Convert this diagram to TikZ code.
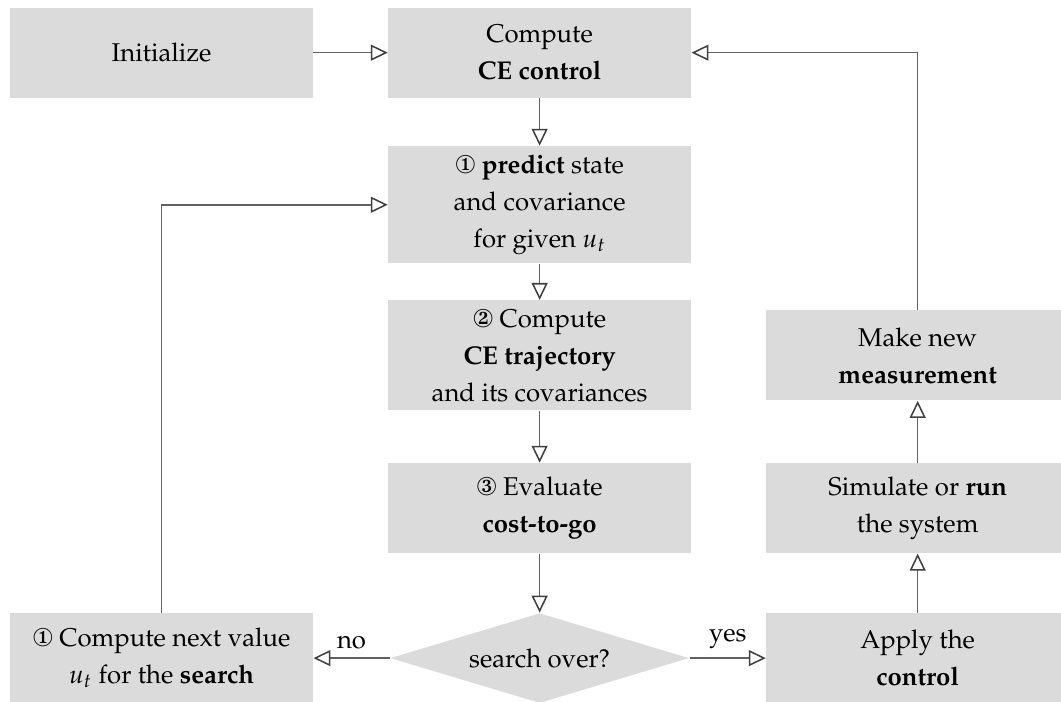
\documentclass[tikz,border=0pt]{standalone}
\usepackage[T1]{fontenc}
\usepackage{mathpazo}
\usepackage{pifont}
\usetikzlibrary{arrows.meta,shapes.geometric}

\definecolor{boxgray}{gray}{0.86}
\definecolor{linegray}{gray}{0.38}

\begin{document}
\begin{tikzpicture}
\useasboundingbox (0,0) rectangle (14.51,-9.6);
\tikzset{StepStyle/.style = {rectangle,fill = boxgray,minimum width = 4.14cm,minimum height = 1.23cm,align = center,font = \linespread{1.2}\selectfont}}
\tikzset{FlowStyle/.style = {draw = linegray,line width = 0.6pt,-{Triangle[open,length=6.6pt,width=6.2pt,color=black!75]}}}
\tikzstyle{test}=[diamond, fill=boxgray, aspect=3.3, minimum width=4.09cm, minimum height=1.23cm, inner sep=0pt];

% middle column: one pass of the search
\node[StepStyle] (init) at (2.21,-0.72) {Initialize};
\node[StepStyle] (ce) at (7.38,-0.72) {Compute\\\textbf{CE control}};
\node[StepStyle] (predict) at (7.38,-2.80) {\ding{172} \textbf{predict} state\\and covariance\\for given $u_t$};
\node[StepStyle] (traj) at (7.38,-4.86) {\ding{173} Compute\\\textbf{CE trajectory}\\and its covariances};
\node[StepStyle] (cost) at (7.38,-6.95) {\ding{174} Evaluate\\\textbf{cost-to-go}};
\node[test] (over) at (7.38,-9.0) {search over?};

% left and right columns
\node[StepStyle] (next) at (2.21,-9.0) {\ding{172} Compute next value\\$u_t$ for the \textbf{search}};
\node[StepStyle] (apply) at (12.55,-9.0) {Apply the\\\textbf{control}};
\node[StepStyle] (sim) at (12.55,-6.95) {Simulate or \textbf{run}\\the system};
\node[StepStyle] (meas) at (12.55,-4.86) {Make new\\\textbf{measurement}};

\draw[FlowStyle] (init) -- (ce);
\draw[FlowStyle] (ce) -- (predict);
\draw[FlowStyle] (predict) -- (traj);
\draw[FlowStyle] (traj) -- (cost);
\draw[FlowStyle] (cost) -- (over);
\draw[FlowStyle] (over) -- node[above] {no} (next);
\draw[FlowStyle] (over) -- node[above] {yes} (apply);
\draw[FlowStyle] (apply) -- (sim);
\draw[FlowStyle] (sim) -- (meas);
\draw[FlowStyle] (meas.north) |- (ce.east);
\draw[FlowStyle] (next.north) |- (predict.west);

\end{tikzpicture}
\end{document}
